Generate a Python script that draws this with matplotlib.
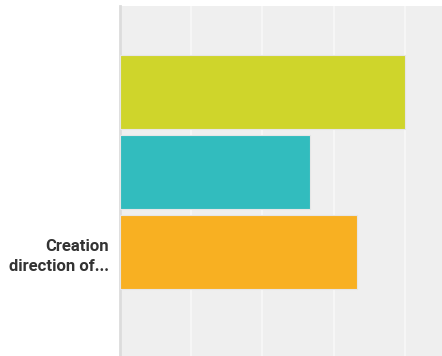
import numpy as np
import matplotlib.pyplot as plt

category = "Creation\ndirection of..."
series_values = [40.0, 26.67, 33.33]
series_colors = ["#cfd52b", "#32bcbe", "#f8b022"]

fig = plt.figure(figsize=(4.42, 3.56), dpi=100)
ax = fig.add_axes([120 / 442, 0, 1 - 120 / 442, 350 / 356])
ax.set_facecolor("#efefef")

pos = np.arange(len(series_values))
ax.barh(pos, series_values, height=0.925, color=series_colors,
        edgecolor="#e6e6e6", linewidth=0.8, zorder=3)

ax.set_xlim(0, 45.2)
ax.set_ylim(3.296, -1.079)
ax.set_xticks([10, 20, 30, 40])
ax.xaxis.grid(True, color="#f7f7f7", linewidth=1.4, zorder=1)
ax.tick_params(axis="x", length=0, labelbottom=False)

ax.set_yticks([pos[-1]])
ax.set_yticklabels([category], fontsize=12, color="#333333",
                   family=["Roboto", "DejaVu Sans"],
                   fontweight="bold", linespacing=1.45)
ax.tick_params(axis="y", length=0, pad=8)

for side in ["top", "right", "bottom"]:
    ax.spines[side].set_visible(False)
ax.spines["left"].set_color("#dcdcdc")
ax.spines["left"].set_linewidth(2)

fig.savefig("out.png", dpi=100)
